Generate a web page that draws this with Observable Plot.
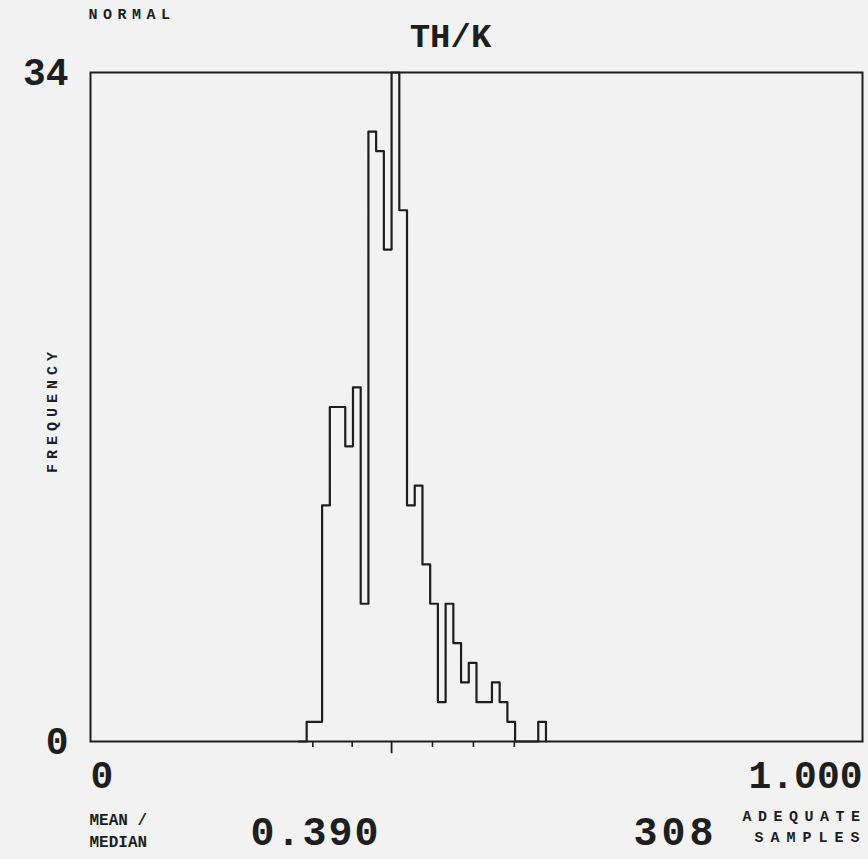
<!DOCTYPE html>
<html>
<head>
<meta charset="utf-8">
<script src="https://cdn.jsdelivr.net/npm/d3@7"></script>
<script src="https://cdn.jsdelivr.net/npm/@observablehq/plot@0.6"></script>
<style>
  html, body { margin: 0; padding: 0; background: #f2f2f2; }
  #chart svg { display: block; }
</style>
</head>
<body>
<div id="chart"></div>
<script>
// ---- data ----
const binStarts = [0.27, 0.28, 0.29, 0.30, 0.31, 0.32, 0.33, 0.34, 0.35, 0.36, 0.37, 0.38, 0.39, 0.40,
                   0.41, 0.42, 0.43, 0.44, 0.45, 0.46, 0.47, 0.48, 0.49, 0.50, 0.51, 0.52, 0.53, 0.54,
                   0.55, 0.56, 0.57, 0.58, 0.59];
const counts    = [0, 1, 1, 12, 17, 17, 15, 18, 7, 31, 30, 25, 34, 27,
                   12, 13, 9, 7, 2, 7, 5, 3, 4, 2, 2, 3, 2, 1,
                   0, 0, 0, 1, 0];
const sdTicks = [0.288, 0.339, 0.443, 0.496, 0.549];
const meanMedian = 0.390;
const yTickValues = [0, 34];
const xTickValues = [0, 1];
const xTickLabels = ["0", "1.000"];
const titleText = "TH/K";
const distributionLabel = "NORMAL";
const yLabel = "FREQUENCY";
const meanLabel = "MEAN /\nMEDIAN";
const samplesLabel = "ADEQUATE\nSAMPLES";

const adequateSamples = d3.sum(counts);
const steps = binStarts.map((x, i) => ({x, y: counts[i]}));

const ink = "#1e1e1e";
const font = "Liberation Mono, DejaVu Sans Mono, monospace";

const chart = Plot.plot({
  width: 868,
  height: 859,
  marginLeft: 90,
  marginRight: 6,
  marginTop: 72,
  marginBottom: 118,
  style: {background: "#f2f2f2", color: ink, fontFamily: font, fontWeight: "bold"},
  x: {domain: [0, 1], axis: null},
  y: {domain: [0, 34], axis: null},
  marks: [
    Plot.frame({stroke: ink, strokeWidth: 2}),
    Plot.line(steps, {x: "x", y: "y", curve: "step-after", stroke: ink, strokeWidth: 2.2}),
    // standard-deviation ticks and long mean tick
    Plot.ruleX(sdTicks, {x: d => d, y1: 0, y2: -0.3, stroke: ink, strokeWidth: 1.6}),
    Plot.ruleX([meanMedian], {y1: 0, y2: -0.62, stroke: ink, strokeWidth: 1.8}),
    // y tick labels
    Plot.text(yTickValues, {y: d => d, text: d => String(d), frameAnchor: "left", textAnchor: "end",
      dx: -22, fontSize: 38, fontWeight: "bold", fill: ink, lineAnchor: "middle"}),
    // x tick labels
    Plot.text([xTickValues[0]], {x: d => d, text: () => xTickLabels[0], frameAnchor: "bottom", textAnchor: "start",
      lineAnchor: "bottom", dy: 46, fontSize: 38, fontWeight: "bold", fill: ink}),
    Plot.text([xTickValues[1]], {x: d => d, text: () => xTickLabels[1], frameAnchor: "bottom", textAnchor: "end",
      lineAnchor: "bottom", dy: 46, dx: 0, fontSize: 38, fontWeight: "bold", fill: ink}),
    // title and labels
    Plot.text([titleText], {text: d => d, frameAnchor: "top", dx: -26, dy: -26, lineAnchor: "bottom",
      fontSize: 34, fontWeight: "bold", fill: ink}),
    Plot.text([distributionLabel], {text: d => d, frameAnchor: "top-left", dx: -2, dy: -54, textAnchor: "start",
      lineAnchor: "bottom", fontSize: 15, fontWeight: "bold", fill: ink}),
    Plot.text([yLabel], {text: d => d, frameAnchor: "left", dx: -38, dy: 3, rotate: -90, textAnchor: "middle",
      lineAnchor: "middle", fontSize: 15, fontWeight: "bold", fill: ink}),
    Plot.text([meanLabel], {text: d => d, frameAnchor: "bottom-left", dx: -1, dy: 105, textAnchor: "start",
      lineAnchor: "bottom", fontSize: 16, fontWeight: "bold", lineHeight: 1.375, fill: ink}),
    Plot.text([meanMedian], {text: d => d3.format(".3f")(d), frameAnchor: "bottom-left", dx: 160, dy: 103,
      textAnchor: "start", lineAnchor: "bottom", fontSize: 40, fontWeight: "bold", fill: ink}),
    Plot.text([adequateSamples], {text: d => String(d), frameAnchor: "bottom-left", dx: 543, dy: 103,
      textAnchor: "start", lineAnchor: "bottom", fontSize: 40, fontWeight: "bold", fill: ink}),
    Plot.text([samplesLabel], {text: d => d, frameAnchor: "bottom-right", dx: 4, dy: 100, textAnchor: "end",
      lineAnchor: "bottom", fontSize: 15, fontWeight: "bold", lineHeight: 1.35, fill: ink})
  ]
});

// plotter-style wide letter spacing for some labels
const spacing = {"NORMAL": 5.5, "FREQUENCY": 5, "ADEQUATE": 6.5, "SAMPLES": 7, "308": 4, "0.390": 2};
d3.select(chart).selectAll("text, tspan").each(function() {
  const t = this.textContent;
  if (this.childElementCount === 0 && spacing[t] != null) this.setAttribute("letter-spacing", spacing[t]);
});

document.getElementById("chart").appendChild(chart);
</script>
</body>
</html>
